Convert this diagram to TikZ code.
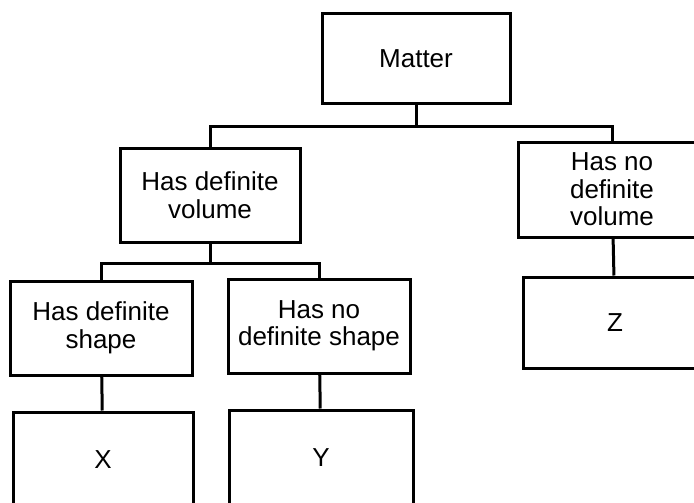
\documentclass[tikz,border=0pt]{standalone}
\usepackage{fontspec}
\setmainfont{Liberation Sans}
\usetikzlibrary{positioning,calc}
\tikzset{
    concept/.style={rectangle, draw, line width=3pt, fill=white, align=center,
                    inner sep=0pt, font=\fontsize{26}{27.5}\selectfont},
    link/.style={draw, line width=3pt},
}
\begin{document}
\begin{tikzpicture}[x=1pt, y=-1pt]
        \useasboundingbox (0,0) rectangle (694,503);
        \fill[white] (0,0) rectangle (694,503);
        \clip (0,0) rectangle (694,503);
        % top level
        \node [concept, minimum width=188pt, minimum height=90pt] (matter) at (416,59) {Matter};
        % second level
        \node [concept, minimum width=180pt, minimum height=94pt] (defvol) at (210,195) {Has definite\\volume};
        \node [concept, minimum width=188pt, minimum height=95pt] (nodefvol) at (612,189.5) {Has no\\definite\\volume};
        % third level
        \node [concept, minimum width=182pt, minimum height=94pt] (defshape) at (101,328) {Has definite\\shape};
        \node [concept, minimum width=182pt, minimum height=94pt] (nodefshape) at (319,326) {Has no\\definite shape};
        \node [concept, minimum width=184pt, minimum height=91pt] (z) at (615,322.5) {Z};
        % last level
        \node [concept, minimum width=180pt, minimum height=96pt] (x) at (103,460) {X};
        \node [concept, minimum width=184pt, minimum height=96pt] (y) at (321,458) {Y};
        % connectors
        \draw[link] (matter.south) -- ++(0,21) coordinate (topbus);
        \draw[link] (defvol.north) |- (topbus) -| (nodefvol.north);
        \draw[link] (defvol.south) -- ++(0,20) coordinate (midbus);
        \draw[link] (defshape.north) |- (midbus) -| (nodefshape.north);
        \draw[link] (defshape) -- (x);
        \draw[link] (nodefshape) -- (y);
        \draw[link] (nodefvol) -- (z);
    \end{tikzpicture}
\end{document}
